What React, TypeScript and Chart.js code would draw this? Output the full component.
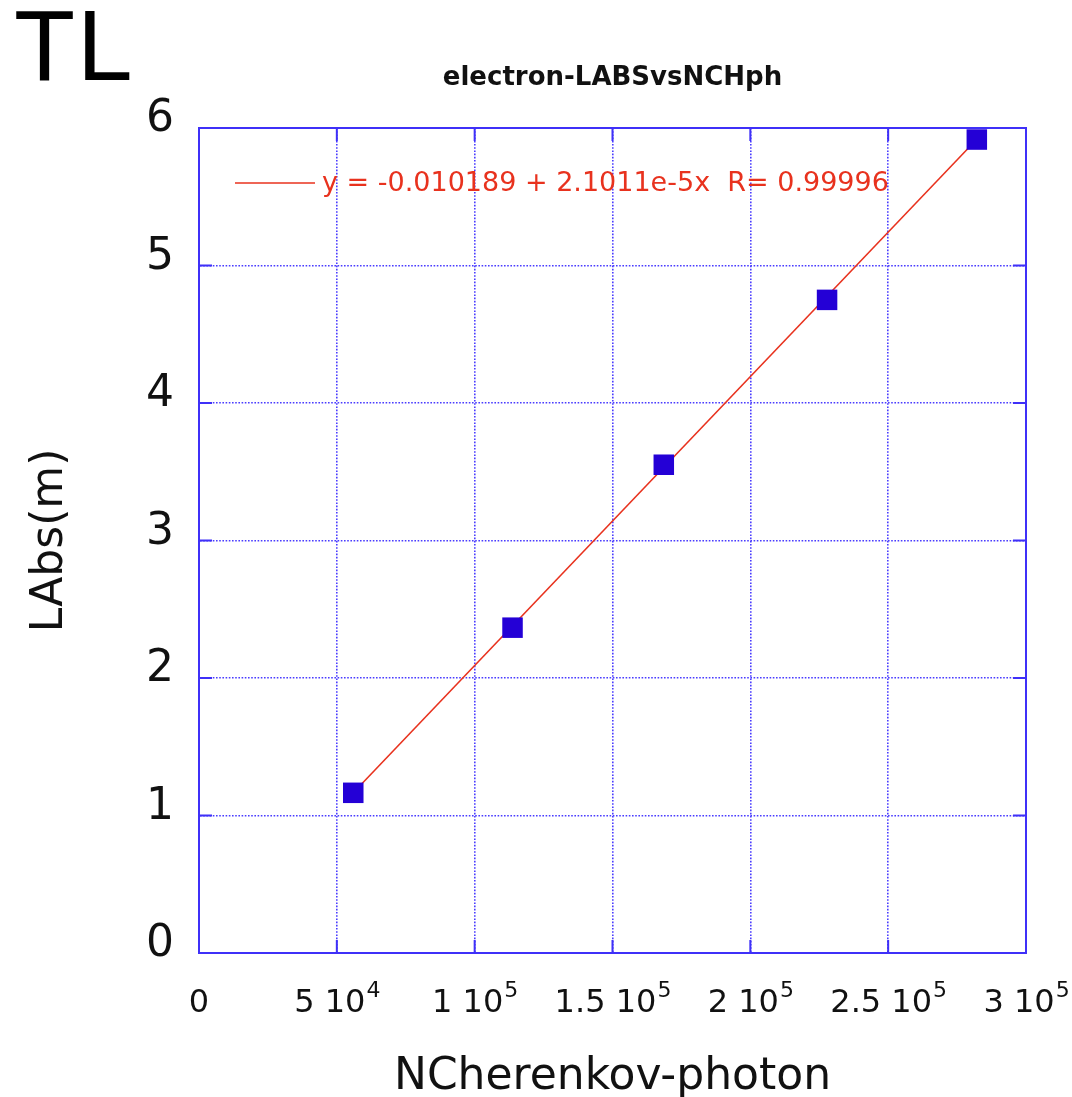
import React, { useEffect, useRef } from 'react';
import { Chart, registerables } from 'chart.js';

Chart.register(...registerables);

// Measured points: number of Cherenkov photons vs absorption length (m)
const nPhotons = [55960, 113735, 168605, 227834, 282158];
const absLength = [1.165, 2.366, 3.551, 4.75, 5.916];

// Linear fit y = a + b x
const interceptLabel = '-0.010189';
const slopeLabel = '2.1011e-5';
const rLabel = '0.99996';
const fitIntercept = Number(interceptLabel);
const fitSlope = Number(slopeLabel);
const fitXRange = [nPhotons[0], nPhotons[nPhotons.length - 1]];

// Axis tick labels: mantissa and power of ten for the x axis
const xTickMantissas = ['0', '5', '1', '1.5', '2', '2.5', '3'];
const xTickExponents = ['', '4', '5', '5', '5', '5', '5'];
const yTickLabels = ['0', '1', '2', '3', '4', '5', '6'];

const chartTitle = 'electron-LABSvsNCHph';
const cornerTag = 'TL';
const xTitle = 'NCherenkov-photon';
const yTitle = 'LAbs(m)';
const legendText = `y = ${interceptLabel} + ${slopeLabel}x  R= ${rLabel}`;

const AXIS_BLUE = '#3f30f8';
const GRID_BLUE = '#4a3cff';
const MARKER_BLUE = '#2400d6';
const FIT_RED = '#e8321e';
const FONT = '"DejaVu Sans", sans-serif';

const decorPlugin = {
  id: 'decor',
  beforeDatasetsDraw(chart: any) {
    const { ctx, chartArea: a, scales } = chart;
    ctx.save();
    ctx.strokeStyle = AXIS_BLUE;
    ctx.lineWidth = 2;
    ctx.strokeRect(a.left, a.top, a.right - a.left, a.bottom - a.top);
    const len = 13;
    ctx.beginPath();
    scales.x.ticks.forEach((t: any) => {
      const px = scales.x.getPixelForValue(t.value);
      ctx.moveTo(px, a.bottom);
      ctx.lineTo(px, a.bottom - len);
      ctx.moveTo(px, a.top);
      ctx.lineTo(px, a.top + len);
    });
    scales.y.ticks.forEach((t: any) => {
      const py = scales.y.getPixelForValue(t.value);
      ctx.moveTo(a.left, py);
      ctx.lineTo(a.left + len, py);
      ctx.moveTo(a.right, py);
      ctx.lineTo(a.right - len, py);
    });
    ctx.stroke();
    ctx.restore();
  },
  afterDraw(chart: any) {
    const { ctx, chartArea: a, scales } = chart;
    ctx.save();
    ctx.fillStyle = '#000';

    // corner tag
    ctx.font = '100px "Liberation Sans", Arial, sans-serif';
    ctx.textAlign = 'left';
    ctx.textBaseline = 'alphabetic';
    (ctx as any).letterSpacing = '2px';
    ctx.fillText(cornerTag, 14, 80);
    (ctx as any).letterSpacing = '0px';

    // chart title
    ctx.fillStyle = '#111';
    ctx.font = `bold 26px ${FONT}`;
    ctx.textAlign = 'center';
    ctx.textBaseline = 'middle';
    ctx.fillText(chartTitle, (a.left + a.right) / 2, 78);

    // x tick labels with raised exponents
    ctx.textBaseline = 'alphabetic';
    ctx.textAlign = 'left';
    scales.x.ticks.forEach((t: any, i: number) => {
      const px = scales.x.getPixelForValue(t.value);
      const mant = xTickMantissas[i] ?? '';
      const exp = xTickExponents[i] ?? '';
      const base = exp ? `${mant} 10` : mant;
      ctx.font = `32px ${FONT}`;
      const w1 = ctx.measureText(base).width;
      ctx.font = `22px ${FONT}`;
      const w2 = exp ? ctx.measureText(exp).width : 0;
      const x0 = px - (w1 + w2) / 2;
      ctx.font = `32px ${FONT}`;
      ctx.fillText(base, x0, a.bottom + 59);
      if (exp) {
        ctx.font = `22px ${FONT}`;
        ctx.fillText(exp, x0 + w1 + 1, a.bottom + 44);
      }
    });

    // axis titles
    ctx.font = `44px ${FONT}`;
    ctx.textAlign = 'center';
    ctx.fillText(xTitle, (a.left + a.right) / 2, a.bottom + 136);
    ctx.save();
    ctx.translate(62, (a.top + a.bottom) / 2);
    ctx.rotate(-Math.PI / 2);
    ctx.fillText(yTitle, 0, 0);
    ctx.restore();

    // fit legend inside the frame
    const ly = a.top + 55;
    ctx.strokeStyle = FIT_RED;
    ctx.lineWidth = 1.5;
    ctx.beginPath();
    ctx.moveTo(a.left + 36, ly);
    ctx.lineTo(a.left + 116, ly);
    ctx.stroke();
    ctx.fillStyle = FIT_RED;
    ctx.font = `27px ${FONT}`;
    ctx.textAlign = 'left';
    ctx.textBaseline = 'middle';
    ctx.fillText(legendText, a.left + 123, ly + 1);
    ctx.restore();
  },
};

export default function App() {
  const canvasRef = useRef<HTMLCanvasElement | null>(null);

  useEffect(() => {
    if (!canvasRef.current) return;
    const fitPoints = fitXRange.map((x) => ({ x, y: fitIntercept + fitSlope * x }));
    const points = nPhotons.map((x, i) => ({ x, y: absLength[i] }));

    const chart = new Chart(canvasRef.current, {
      type: 'scatter',
      data: {
        datasets: [
          {
            label: 'data',
            data: points,
            pointStyle: 'rect',
            pointRadius: 14.5,
            pointBackgroundColor: MARKER_BLUE,
            pointBorderColor: MARKER_BLUE,
            pointBorderWidth: 0,
            showLine: false,
            order: 0,
          },
          {
            label: 'fit',
            data: fitPoints,
            showLine: true,
            borderColor: FIT_RED,
            borderWidth: 1.6,
            pointRadius: 0,
            order: 1,
          },
        ],
      },
      options: {
        responsive: false,
        animation: false,
        layout: { padding: { top: 128, right: 46, bottom: 0, left: 0 } },
        plugins: {
          legend: { display: false },
          title: { display: false },
          tooltip: { enabled: false },
        },
        scales: {
          x: {
            type: 'linear',
            min: 0,
            max: 300000,
            afterFit: (s: any) => {
              s.height = 144;
            },
            ticks: { stepSize: 50000, display: false },
            grid: { color: GRID_BLUE, lineWidth: 1.6, drawTicks: false },
            border: { display: true, color: AXIS_BLUE, width: 2, dash: [1.6, 1.6] },
          },
          y: {
            type: 'linear',
            min: 0,
            max: 6,
            afterFit: (s: any) => {
              s.width = 199;
            },
            ticks: {
              stepSize: 1,
              padding: 25,
              labelOffset: -8,
              color: '#111',
              font: { family: 'DejaVu Sans', size: 44 },
              callback: (_v: any, i: number) => yTickLabels[i],
            },
            grid: { color: GRID_BLUE, lineWidth: 1.6, drawTicks: false },
            border: { display: true, color: AXIS_BLUE, width: 2, dash: [1.6, 1.6] },
          },
        },
      },
      plugins: [decorPlugin],
    });
    return () => chart.destroy();
  }, []);

  return (
    <div style={{ position: 'absolute', left: 0, top: 0, width: 1072, height: 1097, background: '#fff' }}>
      <canvas ref={canvasRef} width={1072} height={1097} style={{ display: 'block' }} />
    </div>
  );
}
